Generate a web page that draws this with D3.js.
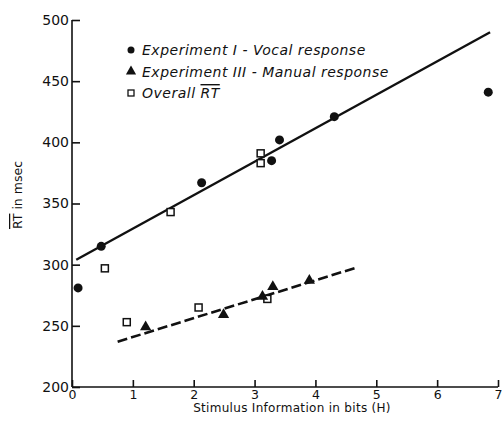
<!doctype html>
<html lang="en">
<head>
<meta charset="utf-8">
<title>RT vs stimulus information</title>
<style>
  body { margin: 0; background: #fff; }
  svg text { font-family: "DejaVu Sans", "Liberation Sans", sans-serif; fill: #111; }
  .tick text { font-size: 14px; }
  .legend text { font-style: italic; font-size: 14px; letter-spacing: 0.5px; }
</style>
<script src="https://d3js.org/d3.v7.min.js"></script>
</head>
<body>
<div id="chart"></div>
<script>
// data: [H bits, RT msec]
var expOne = [[0.1, 281], [0.48, 315], [2.13, 367], [3.28, 385], [3.41, 402], [4.31, 421], [6.84, 441]];
var expThree = [[1.21, 249], [2.49, 259], [3.13, 274], [3.3, 282], [3.9, 287]];
var overall = [[0.54, 297], [0.9, 253], [1.62, 343], [2.08, 265], [3.1, 391], [3.1, 383], [3.21, 272]];
// fitted lines, end points only
var vocalLine = [[0.07, 304], [6.87, 490]];
var manualLine = [[0.75, 237], [4.7, 298]];
var xTicks = [0, 1, 2, 3, 4, 5, 6, 7];
var yTicks = [200, 250, 300, 350, 400, 450, 500];
var legendLabels = ["Experiment I - Vocal response", "Experiment III - Manual response", "Overall "];

var width = 504, height = 429;
var svg = d3.select("#chart").append("svg")
  .attr("width", width)
  .attr("height", height);

var x = d3.scaleLinear().domain([0, 7]).range([72, 498]);
var y = d3.scaleLinear().domain([200, 500]).range([387, 20]);

// axes, ticks pointing into the plot
var xAxis = d3.axisTop(x).tickValues(xTicks).tickSize(7).tickFormat(d3.format("d"));
var gx = svg.append("g")
  .attr("transform", "translate(0," + y(200) + ")")
  .call(xAxis);
gx.selectAll(".tick text").attr("y", 12).attr("dy", 0).style("font-size", "12.5px");
gx.select(".domain").attr("d", "M" + x(0) + ",0H" + x(7));

var yAxis = d3.axisRight(y).tickValues(yTicks).tickSize(8);
var gy = svg.append("g")
  .attr("transform", "translate(" + x(0) + ",0)")
  .call(yAxis);
gy.selectAll(".tick text").attr("x", -3).attr("text-anchor", "end");
gy.select(".domain").attr("d", "M0," + y(200) + "V" + y(500));
svg.selectAll(".domain, .tick line").attr("stroke", "#111").attr("stroke-width", 1.6);

// axis titles
svg.append("text")
  .attr("x", 292)
  .attr("y", 412)
  .attr("text-anchor", "middle")
  .style("font-size", "12px")
  .style("letter-spacing", "0.3px")
  .text("Stimulus Information in bits (H)");

var ylab = svg.append("text")
  .attr("transform", "translate(22,195) rotate(-90)")
  .attr("text-anchor", "middle")
  .style("font-size", "12.5px");
ylab.append("tspan").attr("text-decoration", "overline").text("RT");
ylab.append("tspan").text(" in msec");

// fitted lines
var line = d3.line().x(function(d) { return x(d[0]); }).y(function(d) { return y(d[1]); });
svg.append("path").datum(vocalLine)
  .attr("d", line)
  .attr("fill", "none")
  .attr("stroke", "#111")
  .attr("stroke-width", 2.4);
svg.append("path").datum(manualLine)
  .attr("d", line)
  .attr("fill", "none")
  .attr("stroke", "#111")
  .attr("stroke-width", 2.6)
  .attr("stroke-dasharray", "10,4");

// markers
var tri = d3.symbol().type(d3.symbolTriangle).size(55);

svg.selectAll(".sq").data(overall).enter().append("rect")
  .attr("class", "sq")
  .attr("x", function(d) { return x(d[0]) - 3.5; })
  .attr("y", function(d) { return y(d[1]) - 3.5; })
  .attr("width", 7).attr("height", 7)
  .attr("fill", "#fff")
  .attr("stroke", "#111")
  .attr("stroke-width", 1.5);

svg.selectAll(".tri").data(expThree).enter().append("path")
  .attr("class", "tri")
  .attr("d", tri)
  .attr("transform", function(d) { return "translate(" + x(d[0]) + "," + y(d[1]) + ")"; })
  .attr("fill", "#111");

svg.selectAll(".dot").data(expOne).enter().append("circle")
  .attr("class", "dot")
  .attr("cx", function(d) { return x(d[0]); })
  .attr("cy", function(d) { return y(d[1]); })
  .attr("r", 4.5)
  .attr("fill", "#111");

// legend
var legend = svg.append("g").attr("class", "legend").attr("transform", "translate(131,50)");
var rows = legend.selectAll("g").data(legendLabels).enter().append("g")
  .attr("transform", function(d, i) { return "translate(0," + (i * 21.5) + ")"; });
rows.filter(function(d, i) { return i == 0; }).append("circle").attr("r", 3.5).attr("fill", "#111");
rows.filter(function(d, i) { return i == 1; }).append("path")
  .attr("d", d3.symbol().type(d3.symbolTriangle).size(45)).attr("fill", "#111");
rows.filter(function(d, i) { return i == 2; }).append("rect")
  .attr("x", -3).attr("y", -3).attr("width", 6).attr("height", 6)
  .attr("fill", "#fff").attr("stroke", "#111").attr("stroke-width", 1.3);
var lt = rows.append("text")
  .attr("x", 11)
  .attr("y", 5)
  .text(function(d) { return d; });
lt.filter(function(d, i) { return i == 2; })
  .append("tspan").attr("text-decoration", "overline").text("RT");
</script>
</body>
</html>
